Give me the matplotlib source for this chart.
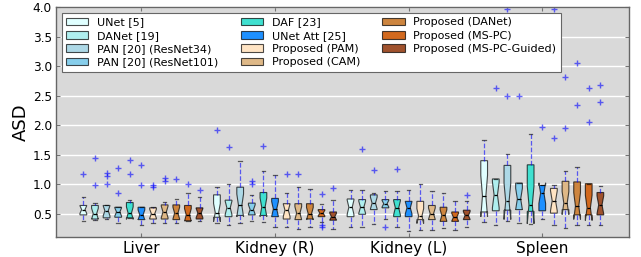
import numpy as np
import matplotlib
matplotlib.use("Agg")
import matplotlib.pyplot as plt

groups = ["Liver", "Kidney (R)", "Kidney (L)", "Spleen"]
methods = ["UNet [5]", "DANet [19]", "PAN [20] (ResNet34)", "PAN [20] (ResNet101)",
           "DAF [23]", "UNet Att [25]", "Proposed (PAM)", "Proposed (CAM)",
           "Proposed (DANet)", "Proposed (MS-PC)", "Proposed (MS-PC-Guided)"]
colors = ["lightcyan", "paleturquoise", "lightblue", "skyblue", "turquoise",
          "dodgerblue", "bisque", "burlywood", "peru", "chocolate", "sienna"]

# per group: 11 values (one per method)
whislo = [
    [0.38, 0.40, 0.41, 0.35, 0.43, 0.31, 0.35, 0.35, 0.34, 0.37, 0.37],
    [0.34, 0.31, 0.34, 0.38, 0.36, 0.27, 0.27, 0.24, 0.27, 0.36, 0.24],
    [0.28, 0.28, 0.33, 0.41, 0.28, 0.21, 0.23, 0.23, 0.26, 0.22, 0.27],
    [0.36, 0.31, 0.37, 0.35, 0.32, 0.41, 0.31, 0.26, 0.31, 0.31, 0.31],
]
q1 = [
    [0.48, 0.41, 0.43, 0.44, 0.43, 0.40, 0.41, 0.41, 0.40, 0.38, 0.41],
    [0.44, 0.45, 0.47, 0.48, 0.47, 0.45, 0.41, 0.40, 0.41, 0.45, 0.39],
    [0.45, 0.49, 0.57, 0.60, 0.45, 0.45, 0.40, 0.40, 0.37, 0.37, 0.40],
    [0.53, 0.55, 0.56, 0.57, 0.54, 0.55, 0.51, 0.57, 0.48, 0.48, 0.48],
]
med = [
    [0.57, 0.50, 0.55, 0.53, 0.51, 0.48, 0.50, 0.53, 0.51, 0.48, 0.51],
    [0.52, 0.60, 0.64, 0.57, 0.61, 0.58, 0.56, 0.51, 0.50, 0.51, 0.45],
    [0.61, 0.61, 0.68, 0.67, 0.60, 0.60, 0.46, 0.50, 0.47, 0.44, 0.47],
    [0.80, 0.82, 0.71, 0.75, 0.65, 0.85, 0.72, 0.68, 0.63, 0.60, 0.65],
]
q3 = [
    [0.64, 0.64, 0.64, 0.61, 0.69, 0.61, 0.60, 0.65, 0.65, 0.64, 0.60],
    [0.82, 0.73, 0.95, 0.68, 0.86, 0.76, 0.67, 0.67, 0.67, 0.57, 0.53],
    [0.75, 0.74, 0.82, 0.74, 0.74, 0.71, 0.71, 0.64, 0.61, 0.53, 0.56],
    [1.40, 1.09, 1.32, 1.02, 1.33, 0.98, 0.93, 1.05, 1.04, 1.01, 0.86],
]
whishi = [
    [0.78, 0.68, 0.65, 0.62, 0.74, 0.61, 0.62, 0.70, 0.75, 0.85, 0.78],
    [0.95, 1.00, 1.40, 0.82, 1.23, 1.16, 0.85, 0.95, 0.92, 0.66, 0.74],
    [0.90, 0.90, 0.85, 0.88, 0.88, 0.90, 1.00, 0.88, 0.85, 0.72, 0.72],
    [1.75, 1.09, 1.52, 1.02, 1.85, 0.98, 0.99, 1.22, 1.29, 1.01, 0.97],
]
fliers = [
    [[1.17], [1.45, 0.98], [1.19, 1.14, 1.01], [1.27, 0.86], [1.42, 1.18],
     [1.32, 0.98], [0.99, 0.95], [1.10, 1.06], [1.09], [1.01], [0.90]],
    [[1.92], [1.63], [], [1.06, 1.01], [1.65], [], [1.18], [1.17], [],
     [0.84, 0.31, 0.27], [0.94]],
    [[], [1.59], [1.24], [0.27], [1.26], [], [], [], [], [], [0.81]],
    [[], [2.63], [2.49, 3.98], [2.49], [], [1.97], [1.78, 3.98], [1.95, 2.82],
     [3.05, 2.34], [2.64, 2.05], [2.68, 2.39]],
]
n_samples = 15  # used for notch confidence interval (1.57*IQR/sqrt(n))

fig = plt.figure(figsize=(6.41, 2.57), dpi=100)
ax = fig.add_axes([0.0874, 0.0767, 0.8934, 0.8942])
ax.set_facecolor("#d9d9d9")

group_step = 11.5
handles = None
for g in range(len(groups)):
    stats = []
    for i in range(len(methods)):
        iqr = q3[g][i] - q1[g][i]
        half = 1.57 * iqr / np.sqrt(n_samples)
        stats.append(dict(med=med[g][i], q1=q1[g][i], q3=q3[g][i],
                          whislo=whislo[g][i], whishi=whishi[g][i],
                          fliers=np.array(fliers[g][i]),
                          cilo=med[g][i] - half, cihi=med[g][i] + half))
    pos = [g * group_step + i for i in range(len(methods))]
    bp = ax.bxp(stats, positions=pos, widths=0.58, shownotches=True,
                patch_artist=True, manage_ticks=False,
                boxprops=dict(edgecolor=(0, 0, 0, 0.7), linewidth=0.8),
                medianprops=dict(color="black", linewidth=0.9),
                whiskerprops=dict(color="blue", linestyle="--", linewidth=0.9, alpha=0.6),
                capprops=dict(color="black", linewidth=0.9, alpha=0.6),
                flierprops=dict(marker="+", markeredgecolor="blue", markersize=5,
                                alpha=0.6, linestyle="none"))
    for patch, c in zip(bp["boxes"], colors):
        patch.set_facecolor(c)
    if handles is None:
        handles = bp["boxes"]

ax.set_xlim(-2.35, 46.94)
ax.set_ylim(0.1, 4.0)
ax.set_xticks([g * group_step + 5 for g in range(len(groups))])
ax.set_xticklabels(groups, fontsize=11)
ax.set_yticks(np.arange(0.5, 4.01, 0.5))
ax.set_yticklabels(["%.1f" % v for v in np.arange(0.5, 4.01, 0.5)], fontsize=8.7)
ax.set_ylabel("ASD", fontsize=13, labelpad=2)
ax.yaxis.grid(True, color="white", linewidth=1.0)
ax.set_axisbelow(True)
ax.tick_params(direction="in", length=3, color="0.45", top=True, right=True, pad=3)
for s in ax.spines.values():
    s.set_color("0.4")
    s.set_linewidth(1.0)

leg = ax.legend(handles, methods, loc="upper left", ncol=3, fontsize=8,
                fancybox=False, framealpha=1.0, labelspacing=0.3,
                borderaxespad=0.5, columnspacing=2.0, handletextpad=0.8)
leg.get_frame().set_edgecolor("0.4")
leg.get_frame().set_linewidth(0.8)

fig.savefig("out.png", dpi=100)
